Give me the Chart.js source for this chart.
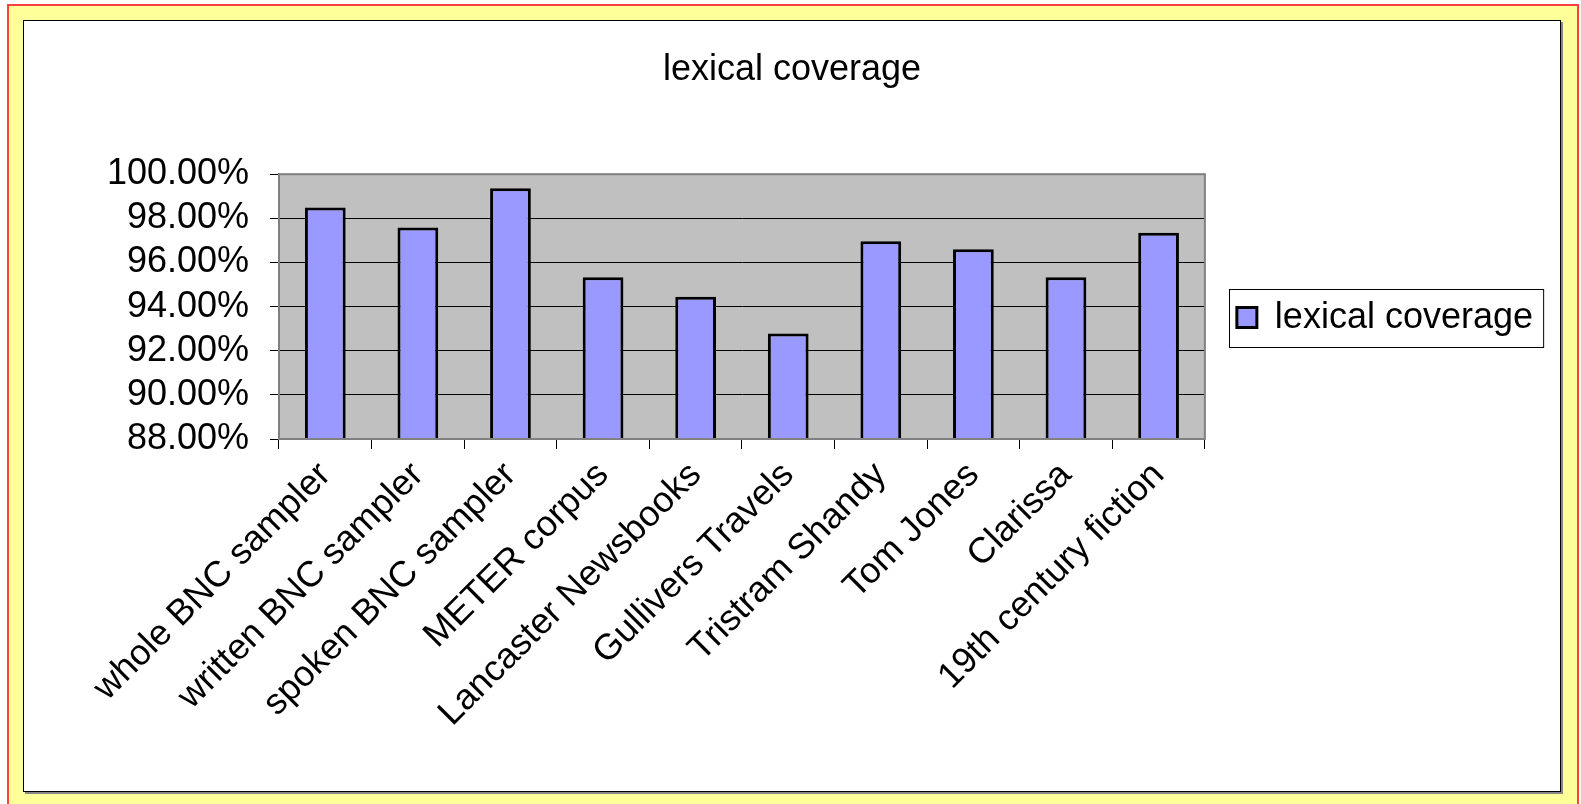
<!DOCTYPE html>
<html>
<head>
<meta charset="utf-8">
<script src="https://cdn.jsdelivr.net/npm/chart.js@4"></script>
<style>
    body { margin: 0; background: #fff; }
    .outer {
        position: absolute; left: 7px; top: 4px; width: 1572px; height: 812px;
        box-sizing: border-box; border: 2px solid #ff4040; background: #ffff99;
    }
    .inner {
        position: absolute; left: 14px; top: 14px; width: 1538px; height: 772px;
        box-sizing: border-box; border: 1px solid #000; background: #fff;
        box-shadow: 2px 2px 0 #888;
    }
    canvas { display: block; }
</style>
</head>
<body>
<div class="outer">
    <div class="inner">
        <canvas id="BarChart" width="1536" height="770"></canvas>
    </div>
</div>
<script>
const categories = ['whole BNC sampler', 'written BNC sampler', 'spoken BNC sampler', 'METER corpus',
    'Lancaster Newsbooks', 'Gullivers Travels', 'Tristram Shandy', 'Tom Jones', 'Clarissa',
    '19th century fiction'];
const coverage = [98.49, 97.59, 99.36, 95.33, 94.45, 92.78, 96.96, 96.60, 95.33, 97.35];
const seriesName = 'lexical coverage';

Chart.defaults.font.family = '"Liberation Sans", Arial, sans-serif';
Chart.defaults.color = '#000';

const plotArea = {
    id: 'plotArea',
    beforeDraw(chart) {
        const { ctx, chartArea: a } = chart;
        ctx.save();
        ctx.fillStyle = '#c0c0c0';
        ctx.fillRect(a.left, a.top, a.right - a.left, a.bottom - a.top);
        ctx.restore();
    },
    afterDraw(chart) {
        const { ctx, chartArea: a } = chart;
        ctx.save();
        ctx.strokeStyle = '#808080';
        ctx.lineWidth = 2;
        ctx.strokeRect(a.left, a.top, a.right - a.left, a.bottom - a.top);
        // frame round the legend
        const hb = chart.legend.legendHitBoxes[0];
        if (hb) {
            ctx.strokeStyle = '#000';
            ctx.lineWidth = 1;
            ctx.strokeRect(Math.round(hb.left - 8) + 0.5, Math.round(hb.top - 11) + 0.5,
                hb.width + 18, hb.height + 22);
        }
        ctx.restore();
    }
};

const bar_data = {
    labels: categories,
    datasets: [{
        label: seriesName,
        data: coverage,
        backgroundColor: '#9999ff',
        borderColor: '#000',
        borderWidth: 3,
        borderSkipped: false,
        categoryPercentage: 1,
        barPercentage: 0.44
    }]
};

const configBar = {
    type: 'bar',
    data: bar_data,
    options: {
        responsive: false,
        animation: false,
        layout: {
            padding: { left: 17, right: 17, top: 0, bottom: 51 }
        },
        plugins: {
            title: {
                display: true,
                text: 'lexical coverage',
                font: { size: 36, weight: 'normal' },
                padding: { top: 27, bottom: 83 }
            },
            legend: {
                position: 'right',
                fullSize: false,
                title: { display: true, text: '', font: { size: 10 }, padding: 5 },
                labels: {
                    font: { size: 36 },
                    boxWidth: 20,
                    boxHeight: 20,
                    padding: 32
                }
            },
            tooltip: { enabled: false }
        },
        scales: {
            x: {
                grid: {
                    drawOnChartArea: false,
                    color: '#000',
                    tickLength: 10
                },
                border: { color: '#808080', width: 2 },
                ticks: {
                    font: { size: 36 },
                    maxRotation: 45,
                    minRotation: 45,
                    padding: 5,
                    autoSkip: false
                }
            },
            y: {
                min: 88,
                max: 100,
                afterFit: scale => { scale.width = 238; },
                grid: {
                    color: '#000',
                    tickLength: 9
                },
                border: { color: '#808080', width: 2 },
                ticks: {
                    stepSize: 2,
                    autoSkip: false,
                    font: { size: 36 },
                    padding: 21,
                    callback: v => v.toFixed(2) + '%'
                }
            }
        }
    },
    plugins: [plotArea]
};

const BarChart = new Chart(
    document.getElementById('BarChart'),
    configBar
);
</script>
</body>
</html>
